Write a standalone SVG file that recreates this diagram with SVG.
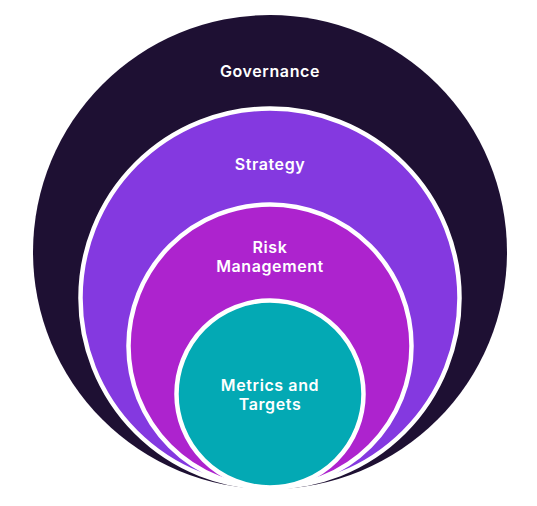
<svg xmlns="http://www.w3.org/2000/svg" width="537" height="506" viewBox="0 0 537 506">
<style>
.lbl{font-family:Inter,"Open Sans","Liberation Sans",sans-serif;font-weight:600;font-size:16px;fill:#ffffff;text-anchor:middle;letter-spacing:0.6px}
.ring{stroke:#ffffff;stroke-width:4.5}
</style>
<rect width="537" height="506" fill="#ffffff"/>
<g id="governance">
<circle cx="270" cy="252" r="237" fill="#1e1033"/>
<text class="lbl" x="270" y="77">Governance</text>
</g>
<g id="strategy">
<circle class="ring" cx="270" cy="298" r="189.5" fill="#8439e0"/>
<text class="lbl" x="270" y="170">Strategy</text>
</g>
<g id="risk-management">
<circle class="ring" cx="270" cy="346" r="141.5" fill="#ad23ce"/>
<text class="lbl" x="270" y="253">Risk</text>
<text class="lbl" x="270" y="272">Management</text>
</g>
<g id="metrics-targets">
<circle class="ring" cx="270" cy="394" r="93.5" fill="#03a9b4"/>
<text class="lbl" x="270" y="391">Metrics and</text>
<text class="lbl" x="270" y="410">Targets</text>
</g>
<g id="connectors"></g>
</svg>
